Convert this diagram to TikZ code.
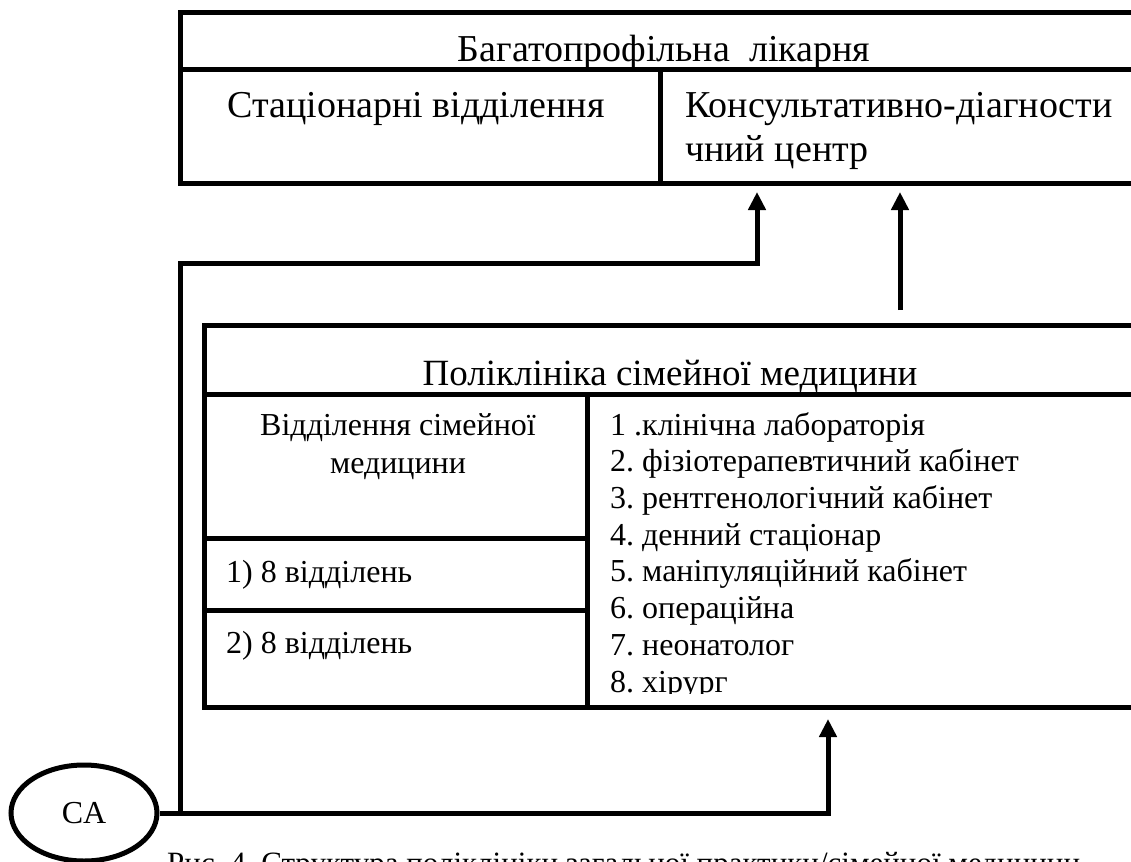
\documentclass[tikz,border=0pt]{standalone}
\usepackage{fontspec}
\setmainfont{Liberation Serif}
\usetikzlibrary{arrows.meta,shapes.geometric}
\frenchspacing
\tikzset{
  frame/.style={draw=black, line width=5pt, line join=miter},
  conn/.style={draw=black, line width=5pt, line join=miter},
  arr/.style={-{Triangle[width=17pt,length=18pt]}},
  bigtxt/.style={inner sep=0pt, font=\fontsize{38}{44}\selectfont},
  midtxt/.style={inner sep=0pt, font=\fontsize{32}{38}\selectfont},
  listtxt/.style={inner sep=0pt, align=left, font=\fontsize{32}{36.7}\selectfont},
}
\begin{document}
\begin{tikzpicture}[x=1pt,y=-1pt]
\useasboundingbox (0,0) rectangle (1131,861);
\clip (0,0) rectangle (1131,861);
% top box
\path[frame] (180,13) rectangle (1160,183);
\path[frame] (180,70) -- (1160,70);
\path[frame] (660,70) -- (660,183);
\node[bigtxt, anchor=base] (hosp) at (664,62) {Багатопрофільна\ \ лікарня};
\node[bigtxt, anchor=base] (stat) at (416,118) {Стаціонарні відділення};
\node[bigtxt, anchor=base west, align=left] (kdc) at (685,162) {Консультативно-діагности\\чний центр};
% bottom box
\path[frame] (204,325) rectangle (1160,707);
\path[frame] (204,394) -- (1160,394);
\path[frame] (587,394) -- (587,707);
\path[frame] (204,538) -- (587,538);
\path[frame] (204,610) -- (587,610);
\node[inner sep=0pt, font=\fontsize{37}{44}\selectfont, anchor=base] (pol) at (670,385) {Поліклініка сімейної медицини};
\node[midtxt, anchor=base, align=center] (vid) at (398,473) {Відділення сімейної\\медицини};
\node[midtxt, anchor=base west] (r1) at (226,582) {1) 8 відділень};
\node[midtxt, anchor=base west] (r2) at (226,653) {2) 8 відділень};
\begin{scope}
\clip (590,396) rectangle (1131,693);
\node[listtxt, anchor=base west] (list) at (610,692) {1 .клінічна лабораторія\\2. фізіотерапевтичний кабінет\\3. рентгенологічний кабінет\\4. денний стаціонар\\5. маніпуляційний кабінет\\6. операційна\\7. неонатолог\\8. хірург};
\end{scope}
% CA
\node[draw=black, line width=5pt, ellipse, minimum width=146pt, minimum height=96pt, inner sep=0pt, font=\fontsize{32}{38}\selectfont] (ca) at (84,813) {CA};
% connectors
\coordinate (j1) at (180,813);
\coordinate (bendA) at (757,263);
\coordinate (tipA) at (757,192);
\coordinate (startB) at (900,310);
\coordinate (tipB) at (900,192);
\coordinate (tipC) at (828,719);
\draw[conn, arr] (ca.east) -| (tipC);
\draw[conn, arr] (j1) |- (bendA) -- (tipA);
\draw[conn, arr] (startB) -- (tipB);
% caption
\node[inner sep=0pt, anchor=base west, font=\fontsize{31}{36}\selectfont] (cap) at (167,873) {Рис. 4. Структура поліклініки загальної практики/сімейної медицини};
\end{tikzpicture}
\end{document}
